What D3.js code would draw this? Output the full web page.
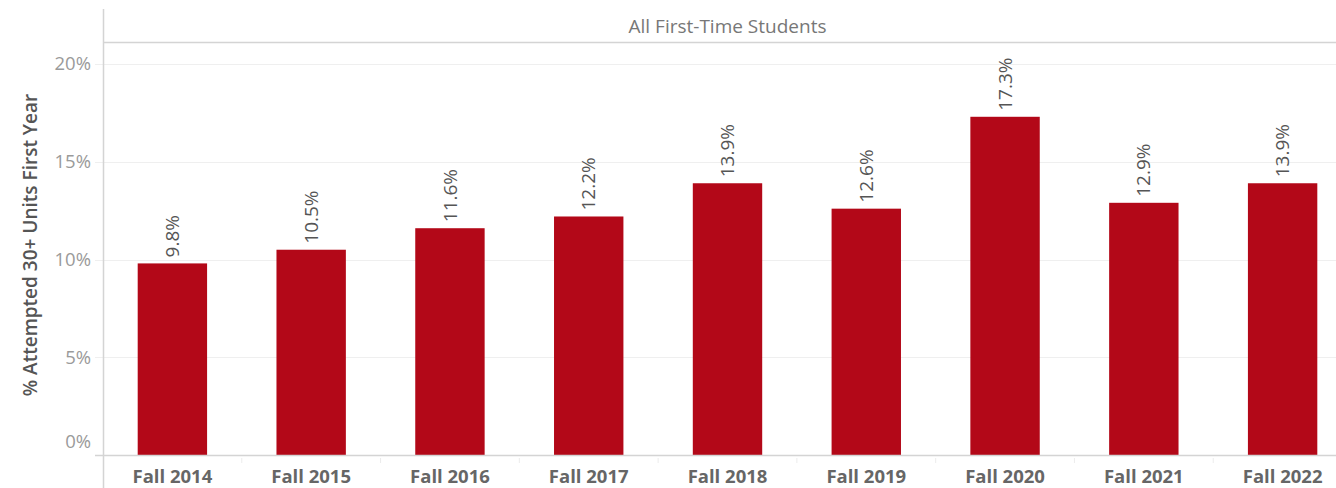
<!DOCTYPE html>
<html lang="en">
<head>
  <meta charset="UTF-8">
  <title>% Attempted 30+ Units First Year</title>
  <script src="https://d3js.org/d3.v7.min.js"></script>
  <style>
    body { margin: 0; background: #ffffff; }
    svg { display: block; font-family: "Open Sans", sans-serif; }
  </style>
</head>
<body>
<div id="chart"></div>
<script>
// data
const terms = ["Fall 2014", "Fall 2015", "Fall 2016", "Fall 2017", "Fall 2018",
               "Fall 2019", "Fall 2020", "Fall 2021", "Fall 2022"];
const pctValues = [9.8, 10.5, 11.6, 12.2, 13.9, 12.6, 17.3, 12.9, 13.9];
const yTicks = [0, 5, 10, 15, 20];
const panelTitle = "All First-Time Students";
const yTitle = "% Attempted 30+ Units First Year";

const W = 1336, H = 488;
const left = 103, bandEnd = 1352;
const yBase = 455, yTop = 64;

const svg = d3.select("#chart").append("svg")
  .attr("width", W).attr("height", H);

const x = d3.scaleBand().domain(terms).range([left, bandEnd]).paddingInner(0.5).paddingOuter(0.25);
const y = d3.scaleLinear().domain([0, 20]).range([yBase, yTop]);

// gridlines
svg.append("g").selectAll("line").data(yTicks.filter(d => d > 0)).join("line")
  .attr("x1", 95).attr("x2", W)
  .attr("y1", d => Math.round(y(d)) + 0.5).attr("y2", d => Math.round(y(d)) + 0.5)
  .attr("stroke", "#efefef").attr("stroke-width", 1);

// y tick labels
svg.append("g").selectAll("text").data(yTicks).join("text")
  .attr("x", 91).attr("y", d => y(d) + (d === 0 ? -13 : 0))
  .attr("dy", "0.35em")
  .attr("text-anchor", "end")
  .attr("font-size", 18.5)
  .attr("fill", "#9a9a9a")
  .text(d => d + "%");

// header band
svg.append("line")
  .attr("x1", left).attr("x2", W).attr("y1", 42.5).attr("y2", 42.5)
  .attr("stroke", "#d4d4d4").attr("stroke-width", 1.5);
svg.append("text")
  .attr("x", (left + bandEnd) / 2).attr("y", 26)
  .attr("dy", "0.35em")
  .attr("text-anchor", "middle")
  .attr("font-size", 19)
  .attr("fill", "#777")
  .text(panelTitle);

// bars
svg.append("g").selectAll("rect").data(pctValues).join("rect")
  .attr("x", (d, i) => x(terms[i]))
  .attr("width", x.bandwidth())
  .attr("y", d => y(d))
  .attr("height", d => yBase - y(d))
  .attr("fill", "#b30818");

// value labels, rotated
svg.append("g").selectAll("text").data(pctValues).join("text")
  .attr("transform", (d, i) => `translate(${x(terms[i]) + x.bandwidth() / 2},${y(d) - 6}) rotate(-90)`)
  .attr("dy", "0.35em")
  .attr("text-anchor", "start")
  .attr("font-size", 19)
  .attr("fill", "#555")
  .text(d => d.toFixed(1) + "%");

// axes lines
svg.append("line")
  .attr("x1", 95).attr("x2", W).attr("y1", yBase + 0.5).attr("y2", yBase + 0.5)
  .attr("stroke", "#d4d4d4").attr("stroke-width", 1.5);
svg.append("line")
  .attr("x1", left + 0.5).attr("x2", left + 0.5).attr("y1", 9).attr("y2", H)
  .attr("stroke", "#d4d4d4").attr("stroke-width", 1.5);

// category separators
svg.append("g").selectAll("line").data(terms.slice(1)).join("line")
  .attr("x1", d => x(d) - x.step() * x.paddingInner() / 2)
  .attr("x2", d => x(d) - x.step() * x.paddingInner() / 2)
  .attr("y1", yBase + 3).attr("y2", yBase + 8)
  .attr("stroke", "#ececec");

// x category labels
svg.append("g").selectAll("text").data(terms).join("text")
  .attr("x", d => x(d) + x.bandwidth() / 2)
  .attr("y", 477)
  .attr("dy", "0.35em")
  .attr("text-anchor", "middle")
  .attr("font-size", 18.5)
  .attr("font-weight", "bold")
  .attr("fill", "#666")
  .text(d => d);

// y axis title
svg.append("text")
  .attr("transform", `translate(30,245) rotate(-90)`)
  .attr("dy", "0.35em")
  .attr("text-anchor", "middle")
  .attr("font-size", 19)
  .attr("font-weight", 600)
  .attr("fill", "#555")
  .text(yTitle);
</script>
</body>
</html>
